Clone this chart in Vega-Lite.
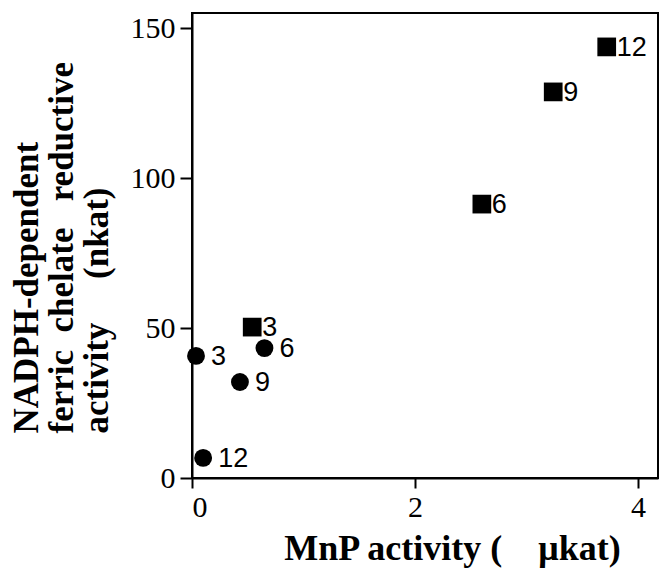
{
  "$schema": "https://vega.github.io/schema/vega-lite/v6.json",
  "width": 466,
  "height": 465,
  "autosize": {"type": "none"},
  "padding": {"left": 192, "top": 13, "right": 7, "bottom": 92},
  "background": "white",
  "config": {
    "view": {"stroke": "black", "strokeWidth": 2},
    "axis": {
      "grid": false,
      "domainColor": "black",
      "domainWidth": 2,
      "tickColor": "black",
      "tickWidth": 2,
      "labelFont": "Liberation Serif",
      "labelFontSize": 30,
      "labelColor": "black",
      "titleFont": "Liberation Serif",
      "titleFontWeight": "bold",
      "titleColor": "black"
    }
  },
  "data": {
    "values": [
      {"series": "circle", "x": 0.036, "y": 40.7, "label": "3"},
      {"series": "circle", "x": 0.65, "y": 43.3, "label": "6"},
      {"series": "circle", "x": 0.43, "y": 32.0, "label": "9"},
      {"series": "circle", "x": 0.10, "y": 6.7, "label": "12"},
      {"series": "square", "x": 0.54, "y": 50.3, "label": "3"},
      {"series": "square", "x": 2.60, "y": 91.3, "label": "6"},
      {"series": "square", "x": 3.24, "y": 128.7, "label": "9"},
      {"series": "square", "x": 3.72, "y": 143.7, "label": "12"}
    ]
  },
  "encoding": {
    "x": {
      "field": "x",
      "type": "quantitative",
      "scale": {"domain": [0, 4.18], "nice": false, "zero": false},
      "axis": {
        "values": [0, 2, 4],
        "tickSize": 10,
        "labelPadding": 4,
        "title": "MnP activity (\u00a0\u00a0\u00a0\u00a0μkat)",
        "titleFontSize": 36,
        "titleX": 260,
        "titleY": 81,
        "titleBaseline": "alphabetic"
      }
    },
    "y": {
      "field": "y",
      "type": "quantitative",
      "scale": {"domain": [0, 155], "nice": false, "zero": false},
      "axis": {
        "values": [0, 50, 100, 150],
        "tickSize": 12,
        "labelPadding": 5,
        "title": ["NADPH-dependent", "ferric\u00a0\u00a0chelate\u00a0\u00a0\u00a0reductive", "activity\u00a0\u00a0\u00a0\u00a0\u00a0(nkat)"],
        "titleFontSize": 35,
        "titleLineHeight": 35,
        "titleAngle": -90,
        "titleAlign": "left",
        "titleBaseline": "top",
        "titleX": -183,
        "titleY": 420
      }
    }
  },
  "layer": [
    {
      "transform": [{"filter": "datum.series === 'circle'"}],
      "mark": {"type": "point", "shape": "circle", "filled": true, "color": "black", "size": 320, "opacity": 1}
    },
    {
      "transform": [{"filter": "datum.series === 'square'"}],
      "mark": {"type": "point", "shape": "square", "filled": true, "color": "black", "size": 350, "opacity": 1}
    },
    {
      "transform": [{"filter": "datum.series === 'circle'"}],
      "mark": {"type": "text", "align": "left", "baseline": "middle", "dx": 15, "dy": 1, "font": "Liberation Sans", "fontSize": 27, "color": "black"},
      "encoding": {"text": {"field": "label"}}
    },
    {
      "transform": [{"filter": "datum.series === 'square'"}],
      "mark": {"type": "text", "align": "left", "baseline": "middle", "dx": 10, "dy": 1, "font": "Liberation Sans", "fontSize": 27, "color": "black"},
      "encoding": {"text": {"field": "label"}}
    }
  ]
}
